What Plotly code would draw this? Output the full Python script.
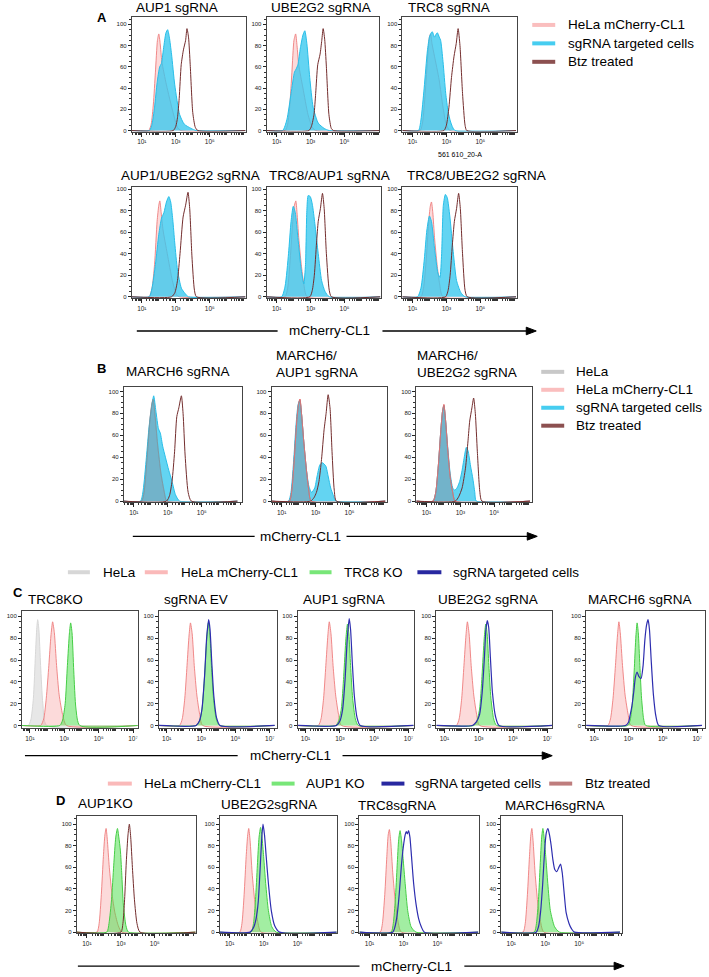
import numpy as np
import plotly.graph_objects as go

W, H = 709, 977

# ---------------- DATA (x in log10 units of mCherry-CL1, y in % of max) ----------------
# Panel A, row 1
a1_pink_lx = [0.4, 1.4, 1.55, 1.68, 1.8, 1.92, 2.0, 2.08, 2.18, 2.45, 2.84, 3.1, 3.3, 7.1]
a1_pink_y = [0, 0, 6, 25, 55, 85, 91, 82, 65, 43, 17, 3, 0, 0]
a1_cyan_lx = [0.4, 1.45, 1.6, 1.75, 1.9, 2.05, 2.15, 2.3, 2.42, 2.52, 2.62, 2.75, 2.94, 3.23, 3.5, 3.9, 4.2, 7.1]
a1_cyan_y = [0, 0, 6, 22, 45, 60, 63, 80, 92, 95, 88, 72, 43, 15, 6, 2, 0, 0]
a1_btz_lx = [0.4, 2.85, 3.0, 3.1, 3.2, 3.32, 3.45, 3.58, 3.66, 3.75, 3.85, 4.0, 4.15, 4.3, 7.1]
a1_btz_y = [0, 0, 4, 12, 30, 62, 76, 85, 96, 88, 62, 17, 3, 0, 0]

a2_pink_lx = [0.4, 1.5, 1.65, 1.78, 1.9, 2.02, 2.12, 2.2, 2.3, 2.55, 2.85, 3.1, 3.3, 7.1]
a2_pink_y = [0, 0, 6, 25, 55, 85, 91, 80, 62, 40, 15, 3, 0, 0]
a2_cyan_lx = [0.4, 1.35, 1.6, 1.85, 2.05, 2.15, 2.25, 2.4, 2.55, 2.66, 2.78, 2.95, 3.15, 3.45, 3.8, 4.1, 7.1]
a2_cyan_y = [0, 0, 10, 35, 55, 58, 62, 78, 90, 94, 82, 50, 22, 7, 2, 0, 0]
a2_btz_lx = [0.4, 2.9, 3.05, 3.2, 3.3, 3.42, 3.56, 3.66, 3.74, 3.83, 3.93, 4.08, 4.22, 4.35, 7.1]
a2_btz_y = [0, 0, 4, 15, 35, 62, 72, 85, 96, 86, 60, 15, 2, 0, 0]

a3_pink_lx = [0.4, 1.45, 1.6, 1.75, 1.9, 2.0, 2.07, 2.15, 2.3, 2.57, 2.8, 2.96, 3.2, 7.1]
a3_pink_y = [0, 0, 8, 35, 70, 88, 91, 82, 70, 48, 22, 8, 0, 0]
a3_cyan_lx = [0.4, 1.35, 1.5, 1.69, 1.88, 2.0, 2.1, 2.17, 2.3, 2.4, 2.47, 2.58, 2.66, 2.8, 2.96, 3.1, 3.25, 3.5, 7.1]
a3_cyan_y = [0, 0, 10, 40, 75, 88, 92, 93, 88, 91, 92, 88, 85, 65, 35, 18, 8, 0, 0]
a3_btz_lx = [0.4, 2.85, 3.0, 3.15, 3.3, 3.45, 3.58, 3.69, 3.8, 3.95, 4.1, 4.2, 7.1]
a3_btz_y = [0, 0, 5, 22, 50, 70, 82, 96, 80, 35, 5, 0, 0]

# Panel A, row 2
a4_pink_lx = [0.4, 1.43, 1.6, 1.75, 1.9, 2.0, 2.06, 2.14, 2.25, 2.5, 2.8, 3.04, 3.2, 7.1]
a4_pink_y = [0, 0, 8, 30, 70, 85, 89, 78, 62, 40, 15, 2, 0, 0]
a4_cyan_lx = [0.4, 1.43, 1.6, 1.8, 2.0, 2.16, 2.3, 2.45, 2.59, 2.7, 2.82, 2.94, 3.1, 3.33, 3.55, 3.75, 7.1]
a4_cyan_y = [0, 0, 8, 30, 58, 73, 78, 88, 93, 88, 72, 50, 25, 8, 3, 0, 0]
a4_btz_lx = [0.4, 2.75, 2.95, 3.1, 3.25, 3.43, 3.58, 3.72, 3.82, 3.95, 4.1, 4.22, 7.1]
a4_btz_y = [0, 0, 4, 15, 40, 74, 85, 97, 82, 38, 6, 0, 0]

a5_pink_lx = [0.4, 1.49, 1.65, 1.8, 1.95, 2.05, 2.13, 2.2, 2.3, 2.45, 2.6, 2.8, 7.1]
a5_pink_y = [0, 0, 8, 35, 70, 85, 89, 78, 55, 30, 12, 0, 0]
a5_cyan_lx = [0.4, 1.29, 1.5, 1.7, 1.85, 1.98, 2.1, 2.25, 2.45, 2.6, 2.7, 2.78, 2.86, 2.98, 3.1, 3.25, 3.45, 3.65, 3.85, 4.1, 7.1]
a5_cyan_y = [0, 0, 10, 40, 70, 84, 78, 55, 25, 12, 30, 80, 94, 93, 86, 68, 40, 15, 5, 0, 0]
a5_btz_lx = [0.4, 2.95, 3.1, 3.22, 3.35, 3.45, 3.58, 3.7, 3.8, 3.93, 4.1, 4.23, 7.1]
a5_btz_y = [0, 0, 6, 20, 50, 70, 82, 96, 82, 40, 6, 0, 0]

a6_pink_lx = [0.4, 1.5, 1.65, 1.8, 1.95, 2.05, 2.12, 2.2, 2.3, 2.45, 2.6, 2.8, 7.1]
a6_pink_y = [0, 0, 8, 32, 68, 84, 88, 78, 55, 30, 12, 0, 0]
a6_cyan_lx = [0.4, 1.3, 1.5, 1.7, 1.85, 2.0, 2.12, 2.3, 2.5, 2.62, 2.72, 2.82, 2.94, 3.05, 3.2, 3.4, 3.6, 3.85, 4.1, 7.1]
a6_cyan_y = [0, 0, 8, 35, 62, 75, 70, 45, 22, 18, 40, 85, 95, 92, 75, 42, 15, 4, 0, 0]
a6_btz_lx = [0.4, 2.95, 3.1, 3.22, 3.35, 3.47, 3.6, 3.72, 3.82, 3.95, 4.1, 4.23, 7.1]
a6_btz_y = [0, 0, 6, 20, 48, 70, 82, 96, 82, 40, 6, 0, 0]

# Panel B
b1_gray_lx = [0.4, 1.45, 1.6, 1.78, 1.95, 2.07, 2.14, 2.25, 2.4, 2.6, 2.8, 2.95, 7.1]
b1_gray_y = [0, 0, 8, 40, 75, 90, 93, 78, 52, 25, 8, 0, 0]
b1_pink_lx = [0.4, 1.45, 1.6, 1.78, 1.95, 2.07, 2.14, 2.25, 2.4, 2.6, 2.8, 2.95, 7.1]
b1_pink_y = [0, 0, 8, 40, 74, 89, 92, 78, 52, 25, 8, 0, 0]
b1_cyan_lx = [0.4, 1.39, 1.55, 1.74, 1.9, 2.04, 2.17, 2.3, 2.45, 2.56, 2.7, 2.86, 3.06, 3.25, 3.45, 3.7, 7.1]
b1_cyan_y = [0, 0, 10, 40, 68, 85, 96, 82, 66, 62, 50, 40, 28, 18, 6, 0, 0]
b1_btz_lx = [0.4, 2.92, 3.1, 3.25, 3.4, 3.53, 3.65, 3.8, 3.9, 4.02, 4.2, 4.39, 7.1]
b1_btz_y = [0, 0, 5, 18, 45, 77, 85, 96, 80, 42, 8, 0, 0]

b2_gray_lx = [0.4, 1.45, 1.6, 1.75, 1.9, 2.0, 2.08, 2.17, 2.3, 2.45, 2.6, 2.75, 7.1]
b2_gray_y = [0, 0, 10, 40, 75, 88, 92, 80, 55, 30, 10, 0, 0]
b2_pink_lx = [0.4, 1.45, 1.6, 1.75, 1.9, 2.0, 2.08, 2.17, 2.3, 2.45, 2.6, 2.75, 7.1]
b2_pink_y = [0, 0, 10, 40, 75, 89, 93, 80, 55, 30, 10, 0, 0]
b2_cyan_lx = [0.4, 1.4, 1.55, 1.7, 1.85, 1.97, 2.07, 2.17, 2.3, 2.45, 2.6, 2.76, 2.95, 3.08, 3.25, 3.4, 3.6, 3.75, 3.89, 4.05, 4.2, 7.1]
b2_cyan_y = [0, 0, 8, 35, 70, 88, 92, 80, 55, 30, 14, 8, 12, 22, 33, 35, 32, 22, 12, 5, 0, 0]
b2_btz_lx = [0.4, 2.7, 2.9, 3.05, 3.2, 3.35, 3.5, 3.62, 3.74, 3.85, 3.97, 4.1, 4.23, 7.1]
b2_btz_y = [0, 0, 3, 8, 18, 38, 65, 80, 97, 85, 45, 10, 0, 0]

b3_gray_lx = [0.4, 1.39, 1.55, 1.7, 1.85, 1.95, 2.03, 2.12, 2.25, 2.4, 2.55, 2.7, 7.1]
b3_gray_y = [0, 0, 8, 32, 65, 82, 87, 75, 48, 22, 8, 0, 0]
b3_pink_lx = [0.4, 1.39, 1.55, 1.7, 1.85, 1.95, 2.03, 2.12, 2.25, 2.4, 2.55, 2.7, 7.1]
b3_pink_y = [0, 0, 8, 32, 65, 82, 88, 75, 48, 22, 8, 0, 0]
b3_cyan_lx = [0.4, 1.39, 1.55, 1.7, 1.85, 1.95, 2.03, 2.12, 2.25, 2.4, 2.55, 2.66, 2.8, 2.96, 3.1, 3.25, 3.35, 3.45, 3.6, 3.74, 3.85, 3.94, 7.1]
b3_cyan_y = [0, 0, 8, 32, 65, 82, 87, 75, 50, 25, 12, 10, 12, 18, 28, 42, 49, 46, 32, 20, 8, 0, 0]
b3_btz_lx = [0.4, 2.7, 2.9, 3.1, 3.3, 3.45, 3.55, 3.68, 3.78, 3.88, 4.0, 4.15, 4.27, 7.1]
b3_btz_y = [0, 0, 4, 12, 30, 55, 73, 85, 94, 80, 45, 8, 0, 0]

# Panel C
c1_gray_lx = [0.53, 0.9, 1.05, 1.2, 1.32, 1.4, 1.45, 1.52, 1.62, 1.75, 1.97, 7.28]
c1_gray_y = [0, 0, 5, 25, 65, 90, 97, 88, 55, 20, 0, 0]
c1_pink_lx = [0.53, 1.62, 1.8, 1.95, 2.1, 2.22, 2.32, 2.42, 2.55, 2.7, 2.9, 3.13, 7.28]
c1_pink_y = [0, 0, 6, 25, 55, 82, 95, 85, 55, 28, 10, 0, 0]
c1_green_lx = [0.53, 2.74, 2.9, 3.05, 3.18, 3.3, 3.37, 3.45, 3.55, 3.68, 3.9, 7.28]
c1_green_y = [0, 0, 5, 20, 55, 85, 94, 85, 50, 15, 0, 0]

c2_pink_lx = [0.53, 1.74, 1.9, 2.05, 2.18, 2.3, 2.38, 2.48, 2.6, 2.75, 2.92, 3.09, 7.28]
c2_pink_y = [0, 0, 6, 25, 55, 83, 94, 84, 55, 28, 10, 0, 0]
c2_green_lx = [0.53, 2.71, 2.9, 3.05, 3.2, 3.33, 3.42, 3.5, 3.6, 3.72, 3.88, 4.07, 7.28]
c2_green_y = [0, 0, 4, 15, 45, 80, 94, 85, 55, 25, 6, 0, 0]
c2_blue_lx = [0.53, 2.71, 2.9, 3.05, 3.2, 3.33, 3.44, 3.52, 3.62, 3.74, 3.9, 4.1, 7.28]
c2_blue_y = [0, 0, 4, 15, 45, 82, 97, 88, 58, 27, 7, 0, 0]

c3_pink_lx = [0.53, 1.74, 1.9, 2.05, 2.18, 2.3, 2.38, 2.48, 2.6, 2.75, 2.92, 3.09, 7.28]
c3_pink_y = [0, 0, 6, 25, 55, 83, 95, 84, 55, 28, 10, 0, 0]
c3_green_lx = [0.53, 2.75, 2.92, 3.08, 3.22, 3.35, 3.44, 3.52, 3.62, 3.74, 3.9, 4.07, 7.28]
c3_green_y = [0, 0, 4, 15, 45, 80, 93, 84, 55, 25, 6, 0, 0]
c3_blue_lx = [0.53, 2.8, 3.0, 3.15, 3.3, 3.43, 3.54, 3.62, 3.72, 3.84, 4.0, 4.18, 7.28]
c3_blue_y = [0, 0, 4, 14, 42, 80, 98, 88, 58, 27, 7, 0, 0]

c4_pink_lx = [0.53, 1.7, 1.86, 2.01, 2.14, 2.26, 2.34, 2.44, 2.56, 2.71, 2.88, 3.05, 7.28]
c4_pink_y = [0, 0, 6, 25, 55, 83, 95, 84, 55, 28, 10, 0, 0]
c4_green_lx = [0.53, 2.72, 2.89, 3.05, 3.19, 3.32, 3.41, 3.49, 3.59, 3.71, 3.87, 4.04, 7.28]
c4_green_y = [0, 0, 4, 15, 45, 80, 93, 84, 55, 25, 6, 0, 0]
c4_blue_lx = [0.53, 2.63, 2.85, 3.05, 3.2, 3.33, 3.42, 3.5, 3.58, 3.68, 3.8, 3.98, 4.18, 7.28]
c4_blue_y = [0, 0, 3, 10, 30, 62, 88, 96, 90, 62, 30, 8, 0, 0]

c5_pink_lx = [0.53, 1.8, 1.95, 2.1, 2.24, 2.36, 2.44, 2.52, 2.65, 2.8, 2.98, 3.15, 7.28]
c5_pink_y = [0, 0, 6, 25, 55, 83, 95, 85, 55, 28, 10, 0, 0]
c5_green_lx = [0.53, 2.95, 3.1, 3.22, 3.33, 3.43, 3.5, 3.57, 3.66, 3.76, 3.88, 4.0, 7.28]
c5_green_y = [0, 0, 5, 20, 50, 82, 94, 85, 55, 25, 6, 0, 0]
c5_blue_lx = [0.53, 2.82, 3.0, 3.1, 3.2, 3.3, 3.4, 3.5, 3.6, 3.73, 3.85, 3.95, 4.05, 4.14, 4.22, 4.32, 4.45, 4.6, 4.76, 7.28]
c5_blue_y = [0, 0, 3, 10, 18, 30, 44, 49, 45, 43, 55, 78, 92, 97, 88, 60, 28, 8, 0, 0]

# Panel D
d1_pink_lx = [0.4, 1.59, 1.72, 1.85, 1.97, 2.06, 2.13, 2.2, 2.32, 2.48, 2.65, 2.85, 3.06, 7.4]
d1_pink_y = [0, 0, 8, 35, 70, 90, 96, 86, 60, 35, 18, 6, 0, 0]
d1_green_lx = [0.4, 2.17, 2.3, 2.45, 2.58, 2.7, 2.8, 2.88, 2.97, 3.05, 3.15, 3.3, 3.45, 7.4]
d1_green_y = [0, 0, 8, 30, 62, 88, 96, 88, 76, 55, 25, 6, 0, 0]
d1_btz_lx = [0.4, 3.0, 3.12, 3.22, 3.32, 3.42, 3.5, 3.58, 3.68, 3.8, 3.95, 4.13, 7.4]
d1_btz_y = [0, 0, 8, 30, 65, 90, 100, 88, 60, 30, 8, 0, 0]

d2_pink_lx = [0.4, 1.59, 1.72, 1.85, 1.97, 2.06, 2.12, 2.2, 2.32, 2.48, 2.65, 2.85, 7.4]
d2_pink_y = [0, 0, 8, 35, 70, 90, 96, 85, 55, 28, 10, 0, 0]
d2_green_lx = [0.4, 2.25, 2.4, 2.52, 2.63, 2.73, 2.82, 2.9, 3.0, 3.12, 3.28, 3.48, 3.74, 7.4]
d2_green_y = [0, 0, 8, 30, 62, 88, 97, 88, 70, 45, 20, 5, 0, 0]
d2_blue_lx = [0.4, 2.2, 2.4, 2.55, 2.68, 2.78, 2.88, 2.96, 3.05, 3.15, 3.28, 3.45, 3.65, 3.94, 7.4]
d2_blue_y = [0, 0, 4, 12, 28, 55, 85, 100, 90, 70, 45, 20, 6, 0, 0]

d3_pink_lx = [0.4, 1.63, 1.76, 1.9, 2.02, 2.1, 2.17, 2.25, 2.37, 2.52, 2.68, 2.88, 7.4]
d3_pink_y = [0, 0, 8, 35, 70, 90, 95, 84, 55, 28, 10, 0, 0]
d3_green_lx = [0.4, 2.27, 2.4, 2.52, 2.63, 2.72, 2.8, 2.88, 2.98, 3.1, 3.25, 3.45, 3.74, 7.4]
d3_green_y = [0, 0, 8, 30, 62, 86, 94, 86, 68, 45, 20, 5, 0, 0]
d3_blue_lx = [0.4, 2.37, 2.5, 2.62, 2.75, 2.88, 3.0, 3.1, 3.16, 3.23, 3.3, 3.38, 3.45, 3.6, 3.75, 3.9, 4.05, 4.23, 7.4]
d3_blue_y = [0, 0, 5, 15, 35, 62, 80, 90, 93, 91, 94, 88, 75, 45, 25, 12, 5, 0, 0]

d4_pink_lx = [0.4, 1.69, 1.82, 1.95, 2.07, 2.15, 2.21, 2.28, 2.4, 2.55, 2.72, 2.92, 7.4]
d4_pink_y = [0, 0, 8, 35, 70, 90, 96, 85, 55, 28, 10, 0, 0]
d4_green_lx = [0.4, 2.35, 2.48, 2.6, 2.7, 2.79, 2.86, 2.93, 3.03, 3.15, 3.3, 3.55, 3.84, 7.4]
d4_green_y = [0, 0, 8, 30, 62, 88, 96, 88, 70, 45, 20, 5, 0, 0]
d4_blue_lx = [0.4, 2.47, 2.6, 2.72, 2.85, 2.96, 3.06, 3.16, 3.25, 3.35, 3.45, 3.56, 3.68, 3.8, 3.9, 4.0, 4.12, 4.23, 4.4, 4.55, 4.72, 7.4]
d4_blue_y = [0, 0, 5, 18, 45, 75, 92, 96, 90, 80, 67, 58, 56, 60, 63, 55, 35, 18, 8, 3, 0, 0]

# Titles / labels
a_titles = ["AUP1 sgRNA", "UBE2G2 sgRNA", "TRC8 sgRNA", "AUP1/UBE2G2 sgRNA", "TRC8/AUP1 sgRNA", "TRC8/UBE2G2 sgRNA"]
b_titles = [["MARCH6 sgRNA"], ["MARCH6/", "AUP1 sgRNA"], ["MARCH6/", "UBE2G2 sgRNA"]]
c_titles = ["TRC8KO", "sgRNA EV", "AUP1 sgRNA", "UBE2G2 sgRNA", "MARCH6 sgRNA"]
d_titles = ["AUP1KO", "UBE2G2sgRNA", "TRC8sgRNA", "MARCH6sgRNA"]
y_ticks = [0, 20, 40, 60, 80, 100]
x_label_decades_abd = [1, 3, 5]
x_label_decades_c = [1, 3, 5, 7]
x_tick_text = {1: "10\u00b9", 3: "10\u00b3", 5: "10\u2075", 7: "10\u2077"}
axis_label = "mCherry-CL1"

# ---------------- STYLES ----------------
FONT = "Liberation Sans, Arial, sans-serif"
STY = {
    "pink": dict(fill="rgba(245,150,150,0.35)", line="rgba(238,125,125,0.9)", w=1),
    "cyan": dict(fill="rgba(55,200,238,0.78)", line="rgb(40,190,232)", w=1),
    "btz": dict(fill=None, line="rgb(115,45,45)", w=1),
    "grayB": dict(fill="rgba(140,140,150,0.38)", line="rgba(140,140,140,0.6)", w=1),
    "pinkline": dict(fill=None, line="rgba(232,110,110,0.9)", w=1),
    "grayC": dict(fill="rgba(195,195,195,0.4)", line="rgb(215,215,215)", w=1),
    "green": dict(fill="rgba(70,222,70,0.5)", line="rgb(70,205,70)", w=1),
    "blue": dict(fill=None, line="rgb(45,45,175)", w=1.2),
}

fig = go.Figure()
layout_axes = {}
annotations = []
shapes = []

def px2x(p):
    return p / W

def px2y(p):
    return 1 - p / H

def add_panel(i, box, yr, xr, curves, label_decades):
    l, t, r, b = box
    xa = "xaxis%d" % i
    ya = "yaxis%d" % i
    other = [d for d in range(0, 8) if d not in label_decades]
    minor_vals = [10.0 ** d for d in other] + [k * 10.0 ** d for d in range(0, 8) for k in range(2, 10)]
    layout_axes[xa] = dict(
        domain=[px2x(l), px2x(r)], anchor="y%d" % i, type="log", range=list(xr),
        tickvals=[10.0 ** d for d in label_decades],
        ticktext=[x_tick_text[d] for d in label_decades],
        ticks="outside", ticklen=4, tickwidth=1, tickcolor="#222",
        tickfont=dict(size=6.5, color="#222", family=FONT),
        minor=dict(tickvals=minor_vals, ticks="outside", ticklen=2, tickcolor="#333", showgrid=False),
        showline=True, linecolor="#444", linewidth=1, mirror=True,
        showgrid=False, zeroline=False, fixedrange=True)
    layout_axes[ya] = dict(
        domain=[px2y(b), px2y(t)], anchor="x%d" % i, range=list(yr),
        tickvals=y_ticks, ticks="outside", ticklen=3, tickwidth=1, tickcolor="#222",
        tickfont=dict(size=6, color="#222", family=FONT),
        minor=dict(dtick=5, ticks="outside", ticklen=2, tickcolor="#333", showgrid=False),
        showline=True, linecolor="#444", linewidth=1, mirror=True,
        showgrid=False, zeroline=False, fixedrange=True)
    for lx, yv, kind in curves:
        s = STY[kind]
        fig.add_trace(go.Scatter(
            x=np.power(10.0, np.array(lx)), y=yv, xaxis="x%d" % i, yaxis="y%d" % i,
            mode="lines", line=dict(color=s["line"], width=s["w"], shape="spline", smoothing=0.6),
            fill="tozeroy" if s["fill"] else "none", fillcolor=s["fill"],
            hoverinfo="skip", showlegend=False))

def text(x, y, s, size=13.5, bold=False, anchor="left"):
    annotations.append(dict(
        x=px2x(x), y=px2y(y), xref="paper", yref="paper", text=("<b>%s</b>" % s) if bold else s,
        showarrow=False, xanchor=anchor, yanchor="middle", borderpad=0,
        font=dict(size=size, color="black", family=FONT)))

def hline(x0, x1, y, color="black", width=1.3):
    shapes.append(dict(type="line", xref="paper", yref="paper",
                       x0=px2x(x0), x1=px2x(x1), y0=px2y(y), y1=px2y(y),
                       line=dict(color=color, width=width)))

def arrow_axis(x0, x1, x2, x3, y, tx):
    hline(x0, x1, y)
    hline(x2, x3 - 6, y)
    path = "M %f,%f L %f,%f L %f,%f Z" % (px2x(x3), px2y(y), px2x(x3 - 10), px2y(y - 3.8),
                                         px2x(x3 - 10), px2y(y + 3.8))
    shapes.append(dict(type="path", xref="paper", yref="paper", path=path,
                       fillcolor="black", line=dict(color="black", width=1)))
    text(tx, y, axis_label, anchor="center")

def legend(items, y_list, lx0, lx1, tx):
    for (lab, col), yy in zip(items, y_list):
        hline(lx0, lx1, yy, color=col, width=4)
        text(tx, yy, lab)

def xr_abd(l, r):
    return (0.41, 0.41 + (r - l) / 17.0)

def xr_c(l, r):
    return (1 - 8 / 17.2, 1 + (r - l - 8) / 17.2)

# ---------------- PANEL A ----------------
A_row1 = [(132, 16, 246, 131), (267, 16, 380, 131), (403, 16, 518, 131)]
A_row2 = [(132, 187, 246, 298), (267, 187, 382, 298), (403, 187, 518, 298)]
a_curves = [
    [(a1_pink_lx, a1_pink_y, "pink"), (a1_cyan_lx, a1_cyan_y, "cyan"), (a1_btz_lx, a1_btz_y, "btz")],
    [(a2_pink_lx, a2_pink_y, "pink"), (a2_cyan_lx, a2_cyan_y, "cyan"), (a2_btz_lx, a2_btz_y, "btz")],
    [(a3_pink_lx, a3_pink_y, "pink"), (a3_cyan_lx, a3_cyan_y, "cyan"), (a3_btz_lx, a3_btz_y, "btz")],
    [(a4_pink_lx, a4_pink_y, "pink"), (a4_cyan_lx, a4_cyan_y, "cyan"), (a4_btz_lx, a4_btz_y, "btz")],
    [(a5_pink_lx, a5_pink_y, "pink"), (a5_cyan_lx, a5_cyan_y, "cyan"), (a5_btz_lx, a5_btz_y, "btz")],
    [(a6_pink_lx, a6_pink_y, "pink"), (a6_cyan_lx, a6_cyan_y, "cyan"), (a6_btz_lx, a6_btz_y, "btz")],
]
idx = 1
for k, box in enumerate(A_row1):
    add_panel(idx, box, (-1, 107), xr_abd(box[0], box[2]), a_curves[k], x_label_decades_abd); idx += 1
for k, box in enumerate(A_row2):
    add_panel(idx, box, (-1.2, 101.5), xr_abd(box[0], box[2]), a_curves[3 + k], x_label_decades_abd); idx += 1
a_title_pos = [(135, 7), (270, 7), (408, 7), (120, 175), (268, 175), (407, 175)]
for s, (x, y) in zip(a_titles, a_title_pos):
    text(x, y, s)
text(96, 17, "A", size=13, bold=True)
text(461, 154, "561 610_20-A", size=7, anchor="center")
legend([("HeLa mCherry-CL1", "rgb(250,190,190)"), ("sgRNA targeted cells", "rgb(70,205,240)"),
        ("Btz treated", "rgb(140,80,80)")], [24, 42.5, 61], 533, 556, 568)
arrow_axis(137, 278, 383, 537, 331, 330)

# ---------------- PANEL B ----------------
B_boxes = [(124, 387, 242, 503), (272, 387, 388, 503), (417, 387, 533, 503)]
b_curves = [
    [(b1_pink_lx, b1_pink_y, "pink"), (b1_cyan_lx, b1_cyan_y, "cyan"), (b1_gray_lx, b1_gray_y, "grayB"),
     (b1_btz_lx, b1_btz_y, "btz")],
    [(b2_pink_lx, b2_pink_y, "pink"), (b2_cyan_lx, b2_cyan_y, "cyan"), (b2_gray_lx, b2_gray_y, "grayB"),
     (b2_pink_lx, b2_pink_y, "pinkline"), (b2_btz_lx, b2_btz_y, "btz")],
    [(b3_pink_lx, b3_pink_y, "pink"), (b3_cyan_lx, b3_cyan_y, "cyan"), (b3_gray_lx, b3_gray_y, "grayB"),
     (b3_pink_lx, b3_pink_y, "pinkline"), (b3_btz_lx, b3_btz_y, "btz")],
]
for k, box in enumerate(B_boxes):
    add_panel(idx, box, (-1.2, 104.2), xr_abd(box[0], box[2]), b_curves[k], x_label_decades_abd); idx += 1
text(125, 372, b_titles[0][0])
text(275, 356, b_titles[1][0]); text(275, 373, b_titles[1][1])
text(417, 356, b_titles[2][0]); text(417, 373, b_titles[2][1])
text(96, 369, "B", size=13, bold=True)
legend([("HeLa", "rgb(200,200,200)"), ("HeLa mCherry-CL1", "rgb(250,190,190)"),
        ("sgRNA targeted cells", "rgb(70,205,240)"), ("Btz treated", "rgb(140,80,80)")],
       [372, 390, 408, 426], 542, 565, 576)
arrow_axis(133, 255, 347, 538, 537, 301)

# ---------------- PANEL C ----------------
C_boxes = [(22, 612, 138, 729), (159, 612, 277, 729), (298, 612, 415, 729), (437, 612, 553, 729), (587, 612, 706, 729)]
c_curves = [
    [(c1_gray_lx, c1_gray_y, "grayC"), (c1_pink_lx, c1_pink_y, "pink"), (c1_green_lx, c1_green_y, "green")],
    [(c2_pink_lx, c2_pink_y, "pink"), (c2_green_lx, c2_green_y, "green"), (c2_blue_lx, c2_blue_y, "blue")],
    [(c3_pink_lx, c3_pink_y, "pink"), (c3_green_lx, c3_green_y, "green"), (c3_blue_lx, c3_blue_y, "blue")],
    [(c4_pink_lx, c4_pink_y, "pink"), (c4_green_lx, c4_green_y, "green"), (c4_blue_lx, c4_blue_y, "blue")],
    [(c5_pink_lx, c5_pink_y, "pink"), (c5_green_lx, c5_green_y, "green"), (c5_blue_lx, c5_blue_y, "blue")],
]
for k, box in enumerate(C_boxes):
    add_panel(idx, box, (-2.1, 104.8), xr_c(box[0], box[2]), c_curves[k], x_label_decades_c); idx += 1
for s, x in zip(c_titles, [27, 163, 302, 438, 588]):
    text(x, 600, s)
text(12, 593, "C", size=13, bold=True)
c_leg = [("HeLa", "rgb(215,215,215)", 68, 90, 102), ("HeLa mCherry-CL1", "rgb(250,185,185)", 145, 168, 180),
         ("TRC8 KO", "rgb(120,230,120)", 310, 332, 343), ("sgRNA targeted cells", "rgb(40,40,160)", 418, 442, 453)]
for lab, col, x0, x1, tx in c_leg:
    hline(x0, x1, 573, color=col, width=4)
    text(tx, 573, lab)
arrow_axis(25, 238, 343, 553, 757, 291)

# ---------------- PANEL D ----------------
D_boxes = [(77, 818, 196, 935), (220, 818, 337, 935), (360, 818, 480, 935), (502, 818, 623, 935)]
d_curves = [
    [(d1_pink_lx, d1_pink_y, "pink"), (d1_green_lx, d1_green_y, "green"), (d1_btz_lx, d1_btz_y, "btz")],
    [(d2_pink_lx, d2_pink_y, "pink"), (d2_green_lx, d2_green_y, "green"), (d2_blue_lx, d2_blue_y, "blue")],
    [(d3_pink_lx, d3_pink_y, "pink"), (d3_green_lx, d3_green_y, "green"), (d3_blue_lx, d3_blue_y, "blue")],
    [(d4_pink_lx, d4_pink_y, "pink"), (d4_green_lx, d4_green_y, "green"), (d4_blue_lx, d4_blue_y, "blue")],
]
for k, box in enumerate(D_boxes):
    add_panel(idx, box, (-0.9, 107.1), xr_abd(box[0], box[2]), d_curves[k], x_label_decades_abd); idx += 1
for s, (x, y) in zip(d_titles, [(77, 805), (220, 806), (358, 807), (505, 807)]):
    text(x, y, s)
text(55, 802, "D", size=13, bold=True)
d_leg = [("HeLa mCherry-CL1", "rgb(250,185,185)", 108, 132, 143), ("AUP1 KO", "rgb(120,230,120)", 272, 295, 305),
         ("sgRNA targeted cells", "rgb(40,40,160)", 382, 405, 415), ("Btz treated", "rgb(190,125,125)", 550, 573, 585)]
for lab, col, x0, x1, tx in d_leg:
    hline(x0, x1, 785, color=col, width=4)
    text(tx, 785, lab)
arrow_axis(78, 360, 465, 625, 968, 412)

fig.update_layout(
    width=W, height=H, margin=dict(l=0, r=0, t=0, b=0),
    paper_bgcolor="white", plot_bgcolor="white",
    font=dict(family=FONT, color="black"),
    showlegend=False, annotations=annotations, shapes=shapes, **layout_axes)

fig.write_html("out.html", config={"displayModeBar": False},
               post_script="document.body.style.margin='0px';document.body.style.overflow='hidden';")
